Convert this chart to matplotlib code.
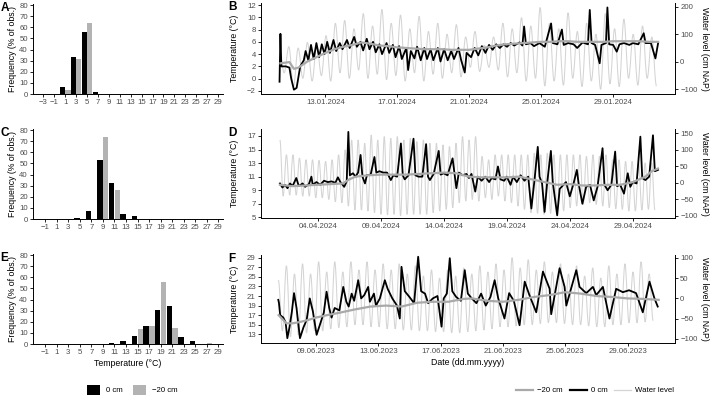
import numpy as np
import pandas as pd
import matplotlib
matplotlib.use("Agg")
import matplotlib.pyplot as plt
import matplotlib.dates as mdates
from matplotlib.patches import Patch, PathPatch
from matplotlib.lines import Line2D
from matplotlib.path import Path

plt.rcParams['font.family'] = ['Liberation Sans', 'DejaVu Sans']

# ---------------- histogram data (% of observations) ----------------
a_centers = list(range(-3, 30, 2))
a_0cm = [0, 0, 6.5, 33.3, 56, 1.8, 0.3, 0, 0, 0, 0, 0, 0, 0, 0, 0, 0]
a_20cm = [0, 0, 3.8, 31.3, 64, 0, 0, 0, 0, 0, 0, 0, 0, 0, 0, 0, 0]

c_centers = list(range(-1, 30, 2))
c_0cm = [0, 0, 0, 1, 6.8, 53, 32, 4.7, 2.4, 0, 0, 0, 0, 0, 0, 0]
c_20cm = [0, 0, 0, 0, 0, 73.7, 26, 0, 0, 0, 0, 0, 0, 0, 0, 0]

e_centers = list(range(-1, 30, 2))
e_0cm = [0, 0, 0, 0, 0, 0, 1, 2.7, 7.4, 16.5, 30.4, 34.2, 6.2, 2.4, 0, 0]
e_20cm = [0, 0, 0, 0, 0, 0, 0, 0, 13.9, 16.2, 55.8, 14.5, 0, 0, 0.8, 0]

# ---------------- panel B: January 2024 (day of month) ----------------
b_day0 = [10.45, 10.5, 10.55, 10.8, 11.0, 11.1, 11.25, 11.4, 11.6, 11.8, 11.9, 12.05,
          12.2, 12.35, 12.5, 12.65, 12.8, 12.95, 13.1, 13.25, 13.45, 13.6, 13.8, 13.95,
          14.2, 14.35, 14.6, 14.75, 14.95, 15.1, 15.3, 15.45, 15.65, 15.8, 16.0, 16.15,
          16.4, 16.55, 16.75, 16.9, 17.1, 17.25, 17.5, 17.6, 17.75, 17.95, 18.1, 18.3,
          18.5, 18.65, 18.85, 19.0, 19.25, 19.4, 19.6, 19.8, 20.0, 20.15, 20.4, 20.55,
          20.75, 20.85, 21.1, 21.3, 21.5, 21.7, 21.9, 22.1, 22.3, 22.5, 22.7, 22.9,
          23.1, 23.3, 23.5, 23.8, 23.95, 24.05, 24.15, 24.4, 24.6, 24.9, 25.2, 25.55,
          25.65, 25.9, 26.15, 26.25, 26.5, 26.8, 27.0, 27.3, 27.6, 27.7, 27.8, 28.0,
          28.25, 28.35, 28.6, 28.68, 28.78, 29.0, 29.2, 29.35, 29.6, 29.9, 30.1, 30.4,
          30.7, 30.8, 31.1, 31.35, 31.5]
b_temp0 = [-0.5, 7.3, 2.0, 2.0, 1.8, 0.0, -1.8, -1.5, 2.0, 3.0, 4.5, 3.0,
           5.5, 3.2, 5.8, 3.5, 5.6, 4.0, 6.0, 4.2, 6.3, 4.5, 5.8, 4.8,
           6.3, 5.0, 6.8, 5.2, 6.0, 4.6, 6.5, 4.8, 6.0, 4.3, 5.6, 4.0,
           5.8, 4.2, 5.5, 3.5, 5.3, 3.2, 5.0, 1.4, 4.5, 3.3, 5.2, 3.0,
           5.0, 3.2, 4.8, 3.0, 5.0, 2.8, 4.8, 3.0, 4.5, 3.2, 5.0, 3.0,
           1.0, 4.2, 3.5, 5.0, 3.8, 5.3, 4.2, 5.5, 4.7, 5.6, 5.0, 5.6,
           5.2, 5.8, 5.4, 5.9, 5.4, 8.5, 5.6, 5.8, 5.3, 5.8, 5.2, 9.0,
           5.8, 5.6, 8.0, 5.5, 5.8, 5.6, 5.0, 5.9, 5.6, 11.2, 5.8, 5.5,
           2.5, 5.5, 5.8, 11.6, 5.6, 5.5, 4.4, 5.6, 5.8, 5.5, 5.8, 5.6,
           7.4, 5.8, 5.8, 3.3, 5.8]
b_day20 = [10.5, 11.0, 11.25, 11.5, 12.0, 12.5, 13.0, 13.5, 14.0, 14.5, 15.0, 15.5,
           16.0, 16.5, 17.0, 17.5, 18.0, 18.5, 19.0, 19.5, 20.0, 20.5, 21.0, 21.5,
           22.0, 22.5, 23.0, 23.5, 24.0, 24.5, 25.0, 25.5, 26.0, 26.5, 27.0, 27.5,
           28.0, 28.5, 29.0, 29.5, 30.0, 30.5, 31.0, 31.5]
b_temp20 = [2.5, 2.7, 1.6, 1.8, 2.8, 3.5, 4.2, 4.8, 5.2, 5.5, 5.9, 5.7,
            5.4, 5.3, 5.1, 5.0, 4.9, 4.8, 4.8, 4.8, 4.7, 4.7, 4.7, 4.9,
            5.1, 5.4, 5.6, 5.7, 5.8, 5.9, 6.0, 6.0, 6.1, 6.1, 6.0, 6.0,
            6.0, 6.0, 6.1, 6.1, 6.1, 6.1, 6.0, 6.0]
b_tide_start = "2024-01-10 10:48"
b_high = [40, 55, 50, 70, 60, 95, 140, 150, 120, 175, 130, 190, 140, 170, 120, 165, 110,
          140, 100, 135, 90, 110, 60, 90, 140, 120, 160, 130, 197, 140, 120, 178, 110,
          140, 100, 175, 120, 155, 100, 130, 90]
b_low = [-40, -90, -60, -70, -50, -70, -40, -60, -30, -60, -45, -65, -50, -70, -40, -70,
         -45, -60, -40, -55, -20, -35, -20, -30, -55, -40, -70, -60, -88, -70, -85, -60,
         -90, -70, -100, -80, -90, -60, -85, -60, -88]
b_ticks = ["2024-01-13", "2024-01-17", "2024-01-21", "2024-01-25", "2024-01-29"]

# ---------------- panel D: April 2024 (day of month, 31 = 1 May) ----------------
d_day0 = [1.0, 1.2, 1.4, 1.6, 1.8, 2.0, 2.3, 2.5, 2.8, 3.0, 3.3, 3.5, 3.6, 3.9, 4.2, 4.5,
          4.8, 5.1, 5.4, 5.6, 5.8, 6.1, 6.3, 6.43, 6.55, 6.8, 7.0, 7.2, 7.4, 7.55, 7.75,
          7.9, 8.2, 8.5, 8.65, 8.9, 9.2, 9.5, 9.8, 10.0, 10.3, 10.6, 10.75, 10.9, 11.2,
          11.6, 11.75, 12.0, 12.3, 12.6, 12.75, 12.9, 13.2, 13.6, 13.75, 14.0, 14.3, 14.7,
          14.85, 15.0, 15.2, 15.5, 15.8, 16.0, 16.2, 16.5, 16.7, 17.0, 17.3, 17.6, 17.8,
          18.1, 18.3, 18.5, 18.8, 19.0, 19.3, 19.5, 19.8, 20.1, 20.4, 20.7, 20.95, 21.2,
          21.46, 21.6, 21.8, 22.0, 22.2, 22.5, 22.65, 23.0, 23.2, 23.5, 23.7, 24.0, 24.3,
          24.56, 24.7, 25.0, 25.3, 25.6, 25.9, 26.2, 26.6, 26.75, 27.0, 27.3, 27.6, 27.75,
          28.0, 28.3, 28.6, 28.8, 29.0, 29.3, 29.6, 29.75, 30.0, 30.3, 30.6, 30.75, 31.0]
d_temp0 = [10.0, 9.4, 9.8, 9.3, 10.0, 9.6, 10.8, 9.6, 10.0, 9.5, 9.9, 11.0, 9.8, 10.2, 9.8, 10.4,
           10.2, 10.3, 10.1, 10.9, 10.2, 9.5, 10.3, 17.6, 11.2, 11.5, 11.0, 11.6, 14.2, 11.0, 10.0,
           11.2, 11.3, 13.9, 11.6, 11.8, 11.6, 11.6, 10.5, 11.2, 11.0, 15.9, 11.2, 10.6, 11.2,
           16.6, 11.2, 11.0, 11.0, 15.8, 11.0, 10.5, 11.4, 14.8, 11.3, 11.5, 11.2, 13.7,
           11.5, 9.3, 11.6, 11.2, 11.4, 10.8, 11.4, 8.8, 11.0, 10.4, 11.0, 10.2, 10.8,
           10.6, 12.5, 10.6, 10.4, 11.0, 9.8, 11.0, 10.2, 11.2, 10.4, 11.0, 6.3, 10.5,
           15.4, 11.0, 10.0, 5.8, 10.0, 14.8, 10.2, 5.3, 9.2, 9.8, 10.2, 8.1, 10.0,
           12.0, 10.0, 7.0, 9.5, 9.8, 7.5, 9.5, 15.2, 9.8, 9.0, 9.8, 14.7, 9.6,
           9.8, 8.5, 11.5, 9.5, 10.2, 10.0, 16.9, 10.8, 10.5, 11.0, 17.1, 11.8, 12.0]
d_day20 = [1.0, 2.0, 3.0, 4.0, 5.0, 6.0, 6.5, 7.0, 8.0, 9.0, 10.0, 11.0, 12.0, 13.0, 14.0,
           15.0, 16.0, 17.0, 18.0, 19.0, 20.0, 21.0, 22.0, 23.0, 24.0, 25.0, 26.0, 27.0,
           28.0, 29.0, 30.0, 30.5, 31.0]
d_temp20 = [9.8, 9.6, 9.7, 9.8, 9.9, 10.0, 10.6, 11.0, 11.2, 11.3, 11.3, 11.3, 11.4, 11.5,
            11.6, 11.5, 11.0, 10.9, 10.9, 10.9, 11.0, 10.6, 10.2, 9.8, 9.9, 9.7, 9.7, 9.8,
            9.8, 10.2, 11.0, 11.8, 12.2]
d_tide_start = "2024-04-01 00:00"
d_high = [130, 85, 85, 75, 70, 70, 68, 65, 70, 85, 100, 130, 130, 120, 145, 130, 140, 135,
          140, 130, 135, 125, 130, 120, 120, 115, 110, 120, 140, 130, 140, 80, 70, 85, 85, 85,
          85, 85, 85, 90, 85, 90, 85, 85, 85, 85, 85, 80, 85, 80, 85, 70, 70, 65, 65, 60, 60, 60]
d_low = [-40, -37, -37, -40, -40, -45, -45, -50, -57, -60, -70, -82, -82, -85, -90, -95, -97,
         -95, -100, -95, -95, -95, -95, -90, -85, -80, -75, -60, -55, -50, -55, -45, -50, -40,
         -55, -60, -70, -80, -90, -92, -95, -92, -90, -85, -75, -70, -65, -60, -65, -70, -75,
         -78, -80, -85, -85, -82, -80, -82]
d_ticks = ["2024-04-04", "2024-04-09", "2024-04-14", "2024-04-19", "2024-04-24", "2024-04-29"]

# ---------------- panel F: June 2023 (day of month, 31 = 1 July) ----------------
f_day0 = [6.58, 6.62, 6.7, 6.9, 7.05, 7.16, 7.3, 7.45, 7.59, 7.75, 7.97, 8.2, 8.4, 8.6, 8.8,
          9.04, 9.3, 9.5, 9.68, 9.85, 10.0, 10.2, 10.5, 10.75, 10.95, 11.1, 11.29, 11.45,
          11.71, 11.9, 12.1, 12.35, 12.46, 12.72, 12.85, 13.1, 13.42, 13.6, 13.9, 14.2,
          14.38, 14.49, 14.7, 15.0, 15.3, 15.56, 15.75, 16.0, 16.2, 16.5, 16.8, 17.06,
          17.2, 17.4, 17.59, 17.75, 18.0, 18.3, 18.55, 18.75, 19.0, 19.3, 19.6, 19.9,
          20.2, 20.47, 20.7, 21.1, 21.4, 21.7, 22.07, 22.4, 22.7, 23.14, 23.57, 24.0,
          24.1, 24.64, 24.96, 25.07, 25.71, 25.92, 26.35, 26.78, 26.99, 27.42, 27.84,
          28.27, 28.7, 29.1, 29.55, 29.98, 30.41, 30.73, 30.94]
f_temp0 = [20.2, 19.6, 17.0, 16.5, 15.5, 12.2, 14.5, 17.7, 21.6, 18.5, 12.2, 14.5, 16.0, 20.5, 17.8,
           12.9, 15.5, 17.5, 21.9, 18.5, 16.5, 18.5, 18.0, 22.9, 19.8, 18.8, 21.5, 20.0,
           24.3, 20.5, 21.2, 22.9, 19.8, 21.5, 19.0, 20.5, 24.3, 22.5, 20.5, 19.0,
           16.3, 27.1, 22.0, 20.8, 19.5, 29.2, 22.0, 21.5, 19.5, 20.5, 21.0, 14.6,
           20.5, 21.5, 28.9, 22.0, 20.8, 20.0, 26.4, 21.5, 20.5, 19.5, 21.5, 19.0,
           20.8, 24.3, 20.5, 16.3, 21.6, 20.0, 14.9, 24.0, 21.2, 17.6, 26.1, 22.5,
           17.2, 26.8, 22.9, 19.0, 26.4, 22.9, 21.6, 22.9, 21.2, 22.9, 16.3,
           22.5, 21.8, 22.2, 21.6, 17.6, 24.0, 20.5, 18.8]
f_day20 = [6.6, 7.1, 7.5, 8.0, 8.5, 9.0, 9.7, 10.5, 11.5, 12.5, 13.5, 14.5, 15.5, 16.5, 17.5,
           18.5, 19.0, 20.0, 21.0, 22.0, 23.0, 24.0, 25.0, 26.0, 27.0, 28.0, 29.0, 30.0, 31.0]
f_temp20 = [17.0, 15.3, 15.3, 15.6, 16.0, 16.5, 17.0, 17.5, 18.2, 18.8, 19.0, 18.8, 19.6, 19.8,
            19.8, 20.4, 20.5, 20.0, 19.8, 20.2, 20.8, 21.2, 21.8, 21.5, 21.0, 20.8, 20.5, 20.4,
            20.2]
f_tide_start = "2023-06-06 14:00"
f_high = [45, 80, 60, 85, 60, 90, 65, 90, 65, 90, 70, 90, 70, 85, 70, 85, 60, 80, 55, 70, 50,
          70, 55, 75, 60, 80, 65, 85, 70, 100, 75, 95, 70, 90, 65, 85, 60, 80, 55, 75, 50, 80,
          60, 85, 65, 90, 60]
f_low = [-80, -94, -90, -85, -80, -80, -75, -72, -70, -65, -65, -70, -70, -75, -75, -78, -78,
         -80, -80, -82, -82, -85, -85, -82, -80, -78, -75, -70, -70, -68, -65, -65, -62, -60,
         -60, -62, -65, -65, -68, -70, -70, -65, -65, -60, -60, -58, -55]
f_ticks = ["2023-06-09", "2023-06-13", "2023-06-17", "2023-06-21", "2023-06-25", "2023-06-29"]

BLACK = "#000000"
GREY = "#a9a9a9"
BARGREY = "#b3b3b3"
WATER = "#d4d4d4"
TICKCOL = "#4d4d4d"


def to_dates(month_start, days):
    return pd.Timestamp(month_start) + pd.to_timedelta(np.asarray(days) - 1, unit="D")


# Tidal extremes (high, low, high, ...) joined by smooth curves with flat tops/bottoms
def tide_path(start, highs, lows):
    vals = np.empty(len(highs) + len(lows))
    vals[0::2] = highs
    vals[1::2] = lows
    times = pd.Timestamp(start) + pd.to_timedelta(np.arange(len(vals)) * 6.21, unit="h")
    x = mdates.date2num(times)
    verts = [(x[0], vals[0])]
    codes = [Path.MOVETO]
    for i in range(len(x) - 1):
        dx = (x[i + 1] - x[i]) * 0.36
        verts += [(x[i] + dx, vals[i]), (x[i + 1] - dx, vals[i + 1]), (x[i + 1], vals[i + 1])]
        codes += [Path.CURVE4] * 3
    return Path(verts, codes)


def style_ticks(ax):
    ax.tick_params(labelsize=5.6, length=2.2, width=0.6, pad=1.5, colors="black",
                   labelcolor=TICKCOL)
    for s in ax.spines.values():
        s.set_linewidth(0.7)


def minus(vals):
    return [str(v).replace("-", "\u2212") for v in vals]


fig = plt.figure(figsize=(7.11, 3.99), dpi=100)


# Histogram panels
def hist_panel(rect, centers, v0, v20, xlim, letter, xlabel=False):
    ax = fig.add_axes(rect)
    c = np.array(centers)
    ax.bar(c - 0.5, v0, width=0.95, color=BLACK)
    ax.bar(c + 0.5, v20, width=0.95, color=BARGREY)
    ax.set_xlim(*xlim)
    ax.set_ylim(0, 81)
    ax.set_xticks(c)
    ax.set_xticklabels(minus(centers))
    ax.set_yticks(range(0, 81, 10))
    ax.spines["top"].set_visible(False)
    ax.spines["right"].set_visible(False)
    style_ticks(ax)
    ax.set_ylabel("Frequency (% of obs.)", fontsize=6.3)
    ax.yaxis.set_label_coords(-0.083, 0.5)
    if xlabel:
        ax.set_xlabel("Temperature (\u00b0C)", fontsize=6.3, labelpad=2)
    fig.text(0.001, rect[1] + rect[3] + 0.004, letter, fontsize=8.5, fontweight="bold",
             va="top", ha="left")
    return ax


hist_panel([0.0464, 0.7644, 0.2672, 0.2256], a_centers, a_0cm, a_20cm, (-4.9, 29.9), "A")
hist_panel([0.0464, 0.4511, 0.2672, 0.2256], c_centers, c_0cm, c_20cm, (-3.1, 29.8), "C")
hist_panel([0.0464, 0.1378, 0.2672, 0.2256], e_centers, e_0cm, e_20cm, (-3.1, 29.8), "E",
           xlabel=True)


# Time-series panels
def ts_panel(rect, month, day0, temp0, day20, temp20, tide_start, highs, lows,
             tlim, tticks, wlim, wticks, xlim, xticks, letter, xlabel=False):
    ax = fig.add_axes(rect)
    ax2 = ax.twinx()
    ax.plot(to_dates(month, day0), temp0, color=BLACK, lw=1.3)
    ax.plot(to_dates(month, day20), temp20, color=GREY, lw=1.6)
    ax2.add_patch(PathPatch(tide_path(tide_start, highs, lows), facecolor="none",
                            edgecolor=WATER, lw=0.75))
    ax.set_zorder(ax2.get_zorder() + 1)
    ax.patch.set_visible(False)

    ax.set_ylim(*tlim)
    ax.set_yticks(list(tticks))
    ax.set_yticklabels(minus(tticks))
    ax2.set_ylim(*wlim)
    ax2.set_yticks(wticks)
    ax2.set_yticklabels(minus(wticks))
    ax.set_xlim(to_dates(month, [xlim[0]])[0], to_dates(month, [xlim[1]])[0])
    ax.set_xticks(pd.to_datetime(xticks))
    ax.xaxis.set_major_formatter(mdates.DateFormatter("%d.%m.%Y"))

    for a in (ax, ax2):
        a.spines["top"].set_visible(False)
        style_ticks(a)
    ax.spines["right"].set_visible(False)
    ax2.spines["left"].set_visible(False)
    ax2.spines["bottom"].set_visible(False)

    ax.set_ylabel("Temperature (\u00b0C)", fontsize=6.3)
    ax.yaxis.set_label_coords(-0.052, 0.5)
    ax2.set_ylabel("Water level (cm NAP)", fontsize=6.3, rotation=270, va="center")
    ax2.yaxis.set_label_coords(1.07, 0.5)
    if xlabel:
        ax.set_xlabel("Date (dd.mm.yyyy)", fontsize=6.3, labelpad=2)
    fig.text(0.321, rect[1] + rect[3] + 0.004, letter, fontsize=8.5, fontweight="bold",
             va="top", ha="left")
    return ax


ts_panel([0.3671, 0.7644, 0.5823, 0.2281], "2024-01-01", b_day0, b_temp0, b_day20, b_temp20,
         b_tide_start, b_high, b_low, (-2.5, 12.33), range(-2, 13, 2), (-117, 213.5),
         [-100, 0, 100, 200], (9.42, 32.44), b_ticks, "B")
ts_panel([0.3671, 0.4529, 0.5823, 0.2238], "2024-04-01", d_day0, d_temp0, d_day20, d_temp20,
         d_tide_start, d_high, d_low, (4.86, 18.03), range(5, 18, 2), (-107, 163),
         [-100, -50, 0, 50, 100, 150], (-0.5, 32.35), d_ticks, "D")
ts_panel([0.3671, 0.1396, 0.5823, 0.2213], "2023-06-01", f_day0, f_temp0, f_day20, f_temp20,
         f_tide_start, f_high, f_low, (11.13, 29.56), range(13, 30, 2), (-110.6, 106.6),
         [-100, -50, 0, 50, 100], (5.47, 32.05), f_ticks, "F", xlabel=True)

# Legends
fig.legend(handles=[Patch(facecolor=BLACK), Patch(facecolor=BARGREY)],
           labels=["0 cm", "\u221220 cm"], loc="center", bbox_to_anchor=(0.186, 0.023),
           ncol=2, frameon=False, fontsize=5.6, handlelength=1.7, handleheight=1.7,
           columnspacing=1.4, handletextpad=0.7)
fig.legend(handles=[Line2D([], [], color=GREY, lw=1.6), Line2D([], [], color=BLACK, lw=1.6),
                    Line2D([], [], color=WATER, lw=0.9)],
           labels=["\u221220 cm", "0 cm", "Water level"], loc="center",
           bbox_to_anchor=(0.837, 0.021), ncol=3, frameon=False, fontsize=5.6,
           handlelength=2.2, columnspacing=0.9, handletextpad=0.5)

fig.savefig("out.png", dpi=100)
